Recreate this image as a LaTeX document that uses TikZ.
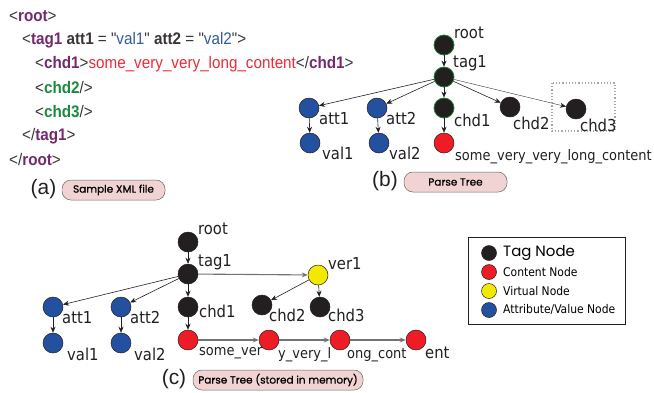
\documentclass[tikz,border=0pt]{standalone}
\usepackage{fontspec}
\setmainfont{DejaVu Sans Condensed}
\newfontfamily\pillfont[FakeBold=0.8]{Poppins}
\newfontfamily\tagfont{Poppins}
\newfontfamily\plainfont{Liberation Sans}
\newfontfamily\xmlfont[FakeStretch=0.91]{Liberation Sans}
\newcommand{\qt}{\symbol{34}}
\usetikzlibrary{arrows.meta}
\definecolor{tagpur}{HTML}{74296F}
\definecolor{chdgreen}{HTML}{1A8A3C}
\definecolor{valblue}{HTML}{3057A8}
\definecolor{contred}{HTML}{EE2A36}
\definecolor{nblack}{HTML}{231F20}
\definecolor{nblue}{HTML}{2450A0}
\definecolor{nred}{HTML}{EE1C25}
\definecolor{nyellow}{HTML}{F2E800}
\definecolor{pillpink}{HTML}{F2D3D3}
\definecolor{edgegreen}{HTML}{1E7F3A}
\tikzset{
  x=1bp, y=-1bp,
  tn/.style={circle, minimum size=20bp, inner sep=0pt, draw=nblack, line width=0.5pt},
  tagn/.style={tn, fill=nblack},
  tagg/.style={tn, fill=nblack, draw=edgegreen, line width=0.8pt},
  atn/.style={tn, fill=nblue},
  ctn/.style={tn, fill=nred},
  vtn/.style={tn, fill=nyellow},
  lbl/.style={anchor=west, inner sep=0pt, font=\fontsize{16.5}{16.5}\selectfont, text=nblack},
  clbl/.style={anchor=west, inner sep=0pt, font=\fontsize{14.5}{14.5}\selectfont, text=nblack},
  xml/.style={anchor=west, inner sep=0pt, font=\xmlfont\fontsize{16.8}{16.8}\selectfont, text=nblack!90},
  arr/.style={-{Stealth[length=6bp,width=5bp]}, line width=0.6pt, nblack},
  thinarr/.style={-{Stealth[length=6bp,width=5bp]}, line width=0.35pt, nblack},
  grarr/.style={-{Stealth[length=6bp,width=5bp]}, line width=1.1pt, black!55},
  pill/.style={rounded corners=9bp, draw=black!60, fill=pillpink, line width=0.5pt, minimum height=20bp, inner sep=0pt, font=\pillfont\fontsize{10.5}{10.5}\selectfont},
  plbl/.style={font=\plainfont\fontsize{21}{21}\selectfont, inner sep=0pt, text=nblack},
  legt/.style={anchor=west, inner sep=0pt, font=\fontsize{12}{12}\selectfont},
}
\begin{document}
\begin{tikzpicture}
\useasboundingbox (0,0) rectangle (654,392);
% ---------- (a) XML ----------
\node[xml] (x1) at (9,16) {<\textcolor{tagpur}{\textbf{root}}>};
\node[xml] (x2) at (22,40) {<\textcolor{tagpur}{\textbf{tag1}} \textbf{att1} = \qt\textcolor{valblue}{val1}\qt{} \textbf{att2} = \qt\textcolor{valblue}{val2}\qt>};
\node[xml] (x3) at (35,64) {<\textcolor{tagpur}{\textbf{chd1}}>\textcolor{contred}{some\_very\_very\_long\_content}</\textcolor{tagpur}{\textbf{chd1}}>};
\node[xml] (x4) at (35,88) {<\textcolor{chdgreen}{\textbf{chd2}}/>};
\node[xml] (x5) at (35,112) {<\textcolor{chdgreen}{\textbf{chd3}}/>};
\node[xml] (x6) at (22,136) {</\textcolor{tagpur}{\textbf{tag1}}>};
\node[xml] (x7) at (9,160) {</\textcolor{tagpur}{\textbf{root}}>};
\node[plbl] (la) at (43.5,189) {(a)};
\node[pill, minimum width=103bp] (pa) at (113.5,190) {Sample XML file};
% ---------- (b) Parse tree ----------
\node[tagg] (broot) at (444,45) {};
\node[tagg] (btag) at (444,77) {};
\node[atn] (batt1) at (309,108) {};
\node[atn] (batt2) at (377,108) {};
\node[tagg] (bchd1) at (444,108) {};
\node[tagn] (bchd2) at (510,107) {};
\node[tagn] (bchd3) at (576,109) {};
\node[atn] (bval1) at (310,143) {};
\node[atn] (bval2) at (379,143) {};
\node[ctn] (bcont) at (444,143) {};
\draw[gray!70, dotted, line width=1.2pt] (552,83) rectangle (615,131);
\node[lbl] (lbroot) at (454,33) {root};
\node[lbl] (lbtag) at (453,63) {tag1};
\node[lbl] (lbatt1) at (319,119) {att1};
\node[lbl] (lbatt2) at (386,119) {att2};
\node[lbl] (lbchd1) at (454,120) {chd1};
\node[lbl] (lbchd2) at (513,123) {chd2};
\node[lbl] (lbchd3) at (580,125) {chd3};
\node[lbl] (lbval1) at (322,153) {val1};
\node[lbl] (lbval2) at (389,153) {val2};
\node[clbl] (lbcont) at (455,157) {some\_very\_very\_long\_content};
\draw[arr] (broot) -- (btag);
\draw[arr] (btag) -- (batt1);
\draw[arr] (btag) -- (batt2);
\draw[arr] (btag) -- (bchd1);
\draw[arr] (btag) -- (bchd2);
\draw[thinarr] (btag) -- (bchd3);
\draw[arr] (batt1) -- (bval1);
\draw[arr] (batt2) -- (bval2);
\draw[arr] (bchd1) -- (bcont);
\node[plbl] (lb) at (385,181) {(b)};
\node[pill, minimum width=103bp] (pb) at (455.5,182) {Parse Tree};
% ---------- (c) Parse tree in memory ----------
\node[tagn] (croot) at (188,242) {};
\node[tagn] (ctag) at (188,274) {};
\node[vtn] (cver) at (318,275) {};
\node[atn] (catt1) at (53,307) {};
\node[atn] (catt2) at (121,307) {};
\node[tagn] (cchd1) at (188,307) {};
\node[tagn] (cchd2) at (262,305) {};
\node[tagn] (cchd3) at (320,307) {};
\node[atn] (cval1) at (53,343) {};
\node[atn] (cval2) at (121,343) {};
\node[ctn] (cc1) at (188,340) {};
\node[ctn] (cc2) at (269,340) {};
\node[ctn] (cc3) at (340,340) {};
\node[ctn] (cc4) at (416,340) {};
\node[lbl] (lcroot) at (198,229) {root};
\node[lbl] (lctag) at (198,262) {tag1};
\node[lbl] (lcver) at (328,264) {ver1};
\node[lbl] (lcatt1) at (62,318) {att1};
\node[lbl] (lcatt2) at (130,318) {att2};
\node[lbl] (lcchd1) at (199,311) {chd1};
\node[lbl] (lcchd2) at (269,315) {chd2};
\node[lbl] (lcchd3) at (328,315) {chd3};
\node[lbl] (lcval1) at (67,354) {val1};
\node[lbl] (lcval2) at (134,354) {val2};
\node[clbl] (lcc1) at (199,353) {some\_ver};
\node[clbl] (lcc2) at (278,355) {y\_very\_l};
\node[clbl] (lcc3) at (347,355) {ong\_cont};
\node[lbl] (lcc4) at (425,353) {ent};
\draw[arr] (croot) -- (ctag);
\draw[arr] (ctag) -- (catt1);
\draw[arr] (ctag) -- (catt2);
\draw[arr] (ctag) -- (cchd1);
\draw[grarr] (ctag) -- (cver);
\draw[arr] (cver) -- (cchd2);
\draw[arr] (cver) -- (cchd3);
\draw[arr] (catt1) -- (cval1);
\draw[arr] (catt2) -- (cval2);
\draw[arr] (cchd1) -- (cc1);
\draw[grarr] (cc1) -- (cc2);
\draw[grarr] (cc2) -- (cc3);
\draw[grarr] (cc3) -- (cc4);
\node[plbl] (lc) at (174,379) {(c)};
\node[pill, minimum width=170bp] (pc) at (278,380) {Parse Tree (stored in memory)};
% ---------- legend ----------
\node[draw=nblack, line width=0.6pt, minimum width=157bp, minimum height=87bp, inner sep=0pt] (leg) at (546.5,280.5) {};
\node[tagn, minimum size=15bp] (lg1) at (489,253) {};
\node[ctn, minimum size=15bp] (lg2) at (489,272) {};
\node[vtn, minimum size=15bp] (lg3) at (489,291) {};
\node[atn, minimum size=15bp] (lg4) at (489,310) {};
\node[legt, font=\tagfont\fontsize{15}{15}\selectfont] (lt1) at (503,253) {Tag Node};
\node[legt] (lt2) at (503,272) {Content Node};
\node[legt] (lt3) at (503,291) {Virtual Node};
\node[legt] (lt4) at (503,310) {Attribute/Value Node};
\end{tikzpicture}
\end{document}
